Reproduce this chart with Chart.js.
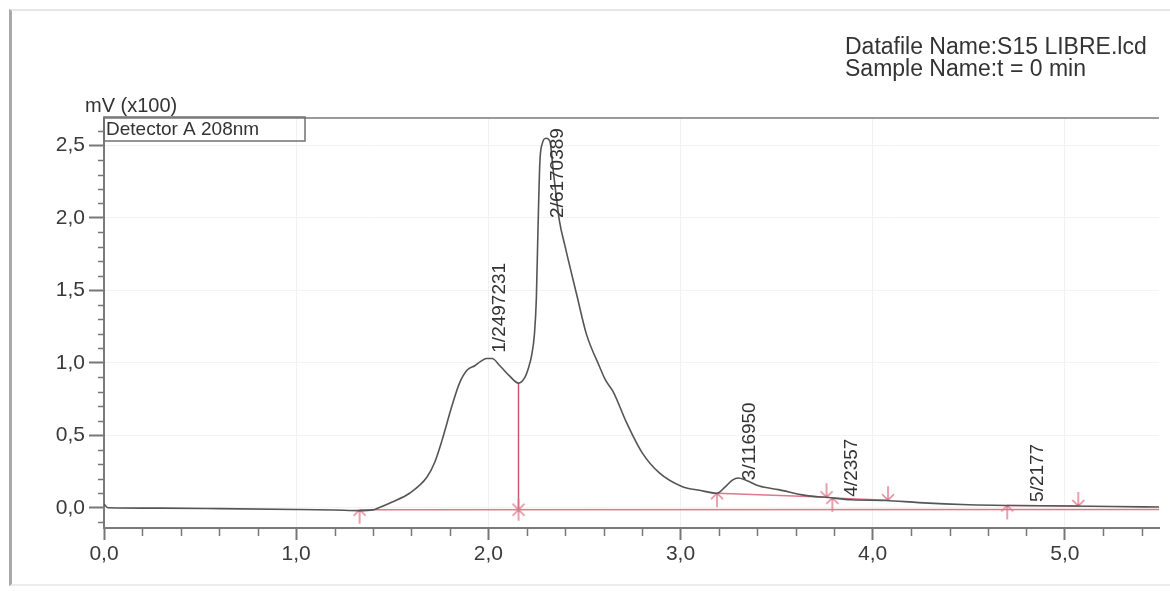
<!DOCTYPE html>
<html>
<head>
<meta charset="utf-8">
<script src="https://cdn.jsdelivr.net/npm/chart.js@4.4.0/dist/chart.umd.min.js"></script>
<style>
  html, body { margin: 0; padding: 0; background: #fff; }
  #wrap { position: relative; width: 1170px; height: 591px; overflow: hidden; }
  .frame { position: absolute; left: 9px; top: 9px; width: 1170px; height: 573px;
           border-left: 3px solid #a9a9a9; border-top: 2px solid #e6e6e6; border-bottom: 2px solid #ececec; }
  canvas { position: absolute; left: 0; top: 0; }
</style>
</head>
<body>
<div id="wrap">
  <div class="frame"></div>
  <canvas id="chrom" width="1170" height="591"></canvas>
</div>
<script>
// chromatogram trace (min / mV x100)
var timeMin = [0.00, 0.02, 0.30, 0.60, 1.00, 1.20, 1.33, 1.40, 1.43, 1.50, 1.59, 1.68, 1.72, 1.76, 1.81, 1.85,
               1.89, 1.93, 1.96, 1.99, 2.02, 2.06, 2.11, 2.157, 2.19, 2.21, 2.225, 2.24, 2.25, 2.258, 2.268,
               2.28, 2.30, 2.32, 2.34, 2.37, 2.40, 2.46, 2.51, 2.58, 2.61, 2.65, 2.72, 2.80, 2.89, 3.01, 3.10,
               3.19, 3.23, 3.27, 3.30, 3.34, 3.41, 3.51, 3.65, 3.77, 3.89, 4.07, 4.24, 4.50, 4.70, 5.02, 5.25, 5.49];
var signal  = [0.025, 0.00, -0.003, -0.006, -0.012, -0.016, -0.02, -0.015, 0.00, 0.04, 0.10, 0.21, 0.31, 0.47, 0.70, 0.86,
               0.95, 0.98, 1.01, 1.03, 1.03, 0.98, 0.91, 0.86, 0.90, 0.97, 1.05, 1.20, 1.45, 1.90, 2.38,
               2.51, 2.55, 2.53, 2.30, 1.98, 1.80, 1.47, 1.20, 0.97, 0.88, 0.80, 0.585, 0.38, 0.24, 0.145, 0.12,
               0.10, 0.14, 0.19, 0.205, 0.19, 0.15, 0.125, 0.085, 0.07, 0.055, 0.05, 0.035, 0.02, 0.015, 0.012, 0.008, 0.005];

// integration baselines and drop line
var mainBaseT = [1.33, 5.49];     var mainBaseY = [-0.014, -0.012];
var peak3BaseT = [3.19, 3.77];    var peak3BaseY = [0.10, 0.072];
var peak4BaseT = [3.79, 4.08];    var peak4BaseY = [0.068, 0.052];
var peak5BaseT = [4.70, 5.07];    var peak5BaseY = [0.016, 0.012];
var dropT = [2.157, 2.157];       var dropY = [-0.014, 0.86];

// peak start / end markers
var startT = [1.33, 3.19, 3.79, 4.70];  var startY = [-0.014, 0.10, 0.068, 0.016];
var endT   = [3.76, 4.08, 5.07];        var endY   = [0.072, 0.052, 0.012];
var splitT = [2.157];                   var splitY = [-0.014];

// peak labels (number/area)
var peakNames = ['1/2497231', '2/6170389', '3/116950', '4/2357', '5/2177'];
var peakLabelT = [2.06, 2.36, 3.36, 3.89, 4.86];
var peakLabelY = [1.07, 2.00, 0.19, 0.076, 0.04];

var xTickValues = [0, 1, 2, 3, 4, 5];
var xTickLabels = ['0,0', '1,0', '2,0', '3,0', '4,0', '5,0'];
var yTickValues = [0, 0.5, 1.0, 1.5, 2.0, 2.5];
var yTickLabels = ['0,0', '0,5', '1,0', '1,5', '2,0', '2,5'];

var FONT = '"Liberation Sans", Arial, sans-serif';
var PINK = '#e0788c';

function pts(xs, ys) {
    return xs.map(function (x, i) { return { x: x, y: ys[i] }; });
}

// little marker glyphs like the integrator draws
function makeMarker(kind) {
    var c = document.createElement('canvas');
    c.width = 18; c.height = 30;
    var g = c.getContext('2d');
    g.strokeStyle = PINK; g.lineWidth = 1.4;
    g.beginPath();
    if (kind === 'up') {
        g.moveTo(9, 15); g.lineTo(9, 29);
        g.moveTo(9, 15); g.lineTo(3, 21);
        g.moveTo(9, 15); g.lineTo(15, 21);
    } else if (kind === 'down') {
        g.moveTo(9, 15); g.lineTo(9, 1);
        g.moveTo(9, 15); g.lineTo(3, 9);
        g.moveTo(9, 15); g.lineTo(15, 9);
    } else {
        g.moveTo(9, 4); g.lineTo(9, 26);
        g.moveTo(3, 9); g.lineTo(15, 21);
        g.moveTo(15, 9); g.lineTo(3, 21);
    }
    g.stroke();
    return c;
}

var extras = {
    id: 'extras',
    afterDraw: function (chart) {
        var ctx = chart.ctx, a = chart.chartArea;
        var xs = chart.scales.x, ys = chart.scales.y;
        ctx.save();

        // top border of the plot
        ctx.strokeStyle = '#9a9a9a'; ctx.lineWidth = 2;
        ctx.beginPath(); ctx.moveTo(a.left, a.top); ctx.lineTo(a.right, a.top); ctx.stroke();

        // minor ticks
        ctx.strokeStyle = '#777'; ctx.lineWidth = 1.5;
        ctx.beginPath();
        for (var k = 1; k * 0.2 < xs.max; k++) {
            if (k % 5 === 0) continue;
            var px = Math.round(xs.getPixelForValue(k * 0.2)) + 0.5;
            ctx.moveTo(px, a.bottom); ctx.lineTo(px, a.bottom + 8);
        }
        for (var j = -1; j * 0.1 < ys.max; j++) {
            if (j % 5 === 0) continue;
            var py = Math.round(ys.getPixelForValue(j * 0.1)) + 0.5;
            ctx.moveTo(a.left - 6, py); ctx.lineTo(a.left, py);
        }
        ctx.stroke();

        // detector box
        ctx.strokeStyle = '#707070'; ctx.lineWidth = 1.5;
        ctx.strokeRect(a.left, a.top - 1, 201, 24);
        ctx.fillStyle = '#333';
        ctx.font = '19px ' + FONT;
        ctx.textBaseline = 'alphabetic';
        ctx.fillText('Detector A 208nm', a.left + 2, a.top + 17);

        // axis unit
        ctx.font = '20px ' + FONT;
        ctx.fillText('mV (x100)', 85, 112);

        // file info
        ctx.font = '23px ' + FONT;
        ctx.fillText('Datafile Name:S15 LIBRE.lcd', 845, 54);
        ctx.fillText('Sample Name:t = 0 min', 845, 76);

        // peak labels, rotated
        ctx.font = '19px ' + FONT;
        ctx.textAlign = 'left'; ctx.textBaseline = 'middle';
        peakNames.forEach(function (name, i) {
            ctx.save();
            ctx.translate(xs.getPixelForValue(peakLabelT[i]), ys.getPixelForValue(peakLabelY[i]));
            ctx.rotate(-Math.PI / 2);
            ctx.fillText(name, 0, 0);
            ctx.restore();
        });
        ctx.restore();
    }
};

var lineSet = function (data, color, width) {
    return { data: data, borderColor: color, borderWidth: width, pointRadius: 0, fill: false, tension: 0 };
};
var markSet = function (data, img) {
    return { data: data, showLine: false, pointStyle: img, pointRadius: 10, borderColor: PINK };
};

new Chart(document.getElementById('chrom'), {
    type: 'line',
    data: {
        datasets: [
            { data: pts(timeMin, signal), borderColor: '#555', borderWidth: 1.6, pointRadius: 0,
              fill: false, cubicInterpolationMode: 'monotone' },
            markSet(pts(startT, startY), makeMarker('up')),
            markSet(pts(endT, endY), makeMarker('down')),
            markSet(pts(splitT, splitY), makeMarker('star')),
            lineSet(pts(mainBaseT, mainBaseY), PINK, 1.6),
            lineSet(pts(peak3BaseT, peak3BaseY), PINK, 1.4),
            lineSet(pts(peak4BaseT, peak4BaseY), PINK, 1.4),
            lineSet(pts(peak5BaseT, peak5BaseY), PINK, 1.4),
            lineSet(pts(dropT, dropY), '#c9506a', 1.4)
        ]
    },
    options: {
        responsive: false,
        animation: false,
        devicePixelRatio: 1,
        layout: { padding: { top: 118, right: 10, left: 0, bottom: 0 } },
        plugins: { legend: { display: false }, tooltip: { enabled: false } },
        scales: {
            x: {
                type: 'linear', min: 0, max: 5.49,
                afterBuildTicks: function (s) { s.ticks = xTickValues.map(function (v) { return { value: v }; }); },
                afterFit: function (s) { s.height = 63; },
                ticks: {
                    autoSkip: false, maxRotation: 0, padding: 2, color: '#3a3a3a',
                    font: { family: FONT, size: 21 },
                    callback: function (v, i) { return xTickLabels[i]; }
                },
                grid: { color: '#f1f1f1', tickColor: '#777', tickLength: 12, tickWidth: 2 },
                border: { color: '#7a7a7a', width: 2 }
            },
            y: {
                min: -0.14, max: 2.69,
                afterBuildTicks: function (s) { s.ticks = yTickValues.map(function (v) { return { value: v }; }); },
                afterFit: function (s) { s.width = 104; },
                ticks: {
                    padding: 4, color: '#3a3a3a',
                    font: { family: FONT, size: 21 },
                    callback: function (v, i) { return yTickLabels[i]; }
                },
                grid: { color: '#f3f3f3', tickColor: '#777', tickLength: 15, tickWidth: 2 },
                border: { color: '#7a7a7a', width: 2 }
            }
        }
    },
    plugins: [extras]
});
</script>
</body>
</html>
